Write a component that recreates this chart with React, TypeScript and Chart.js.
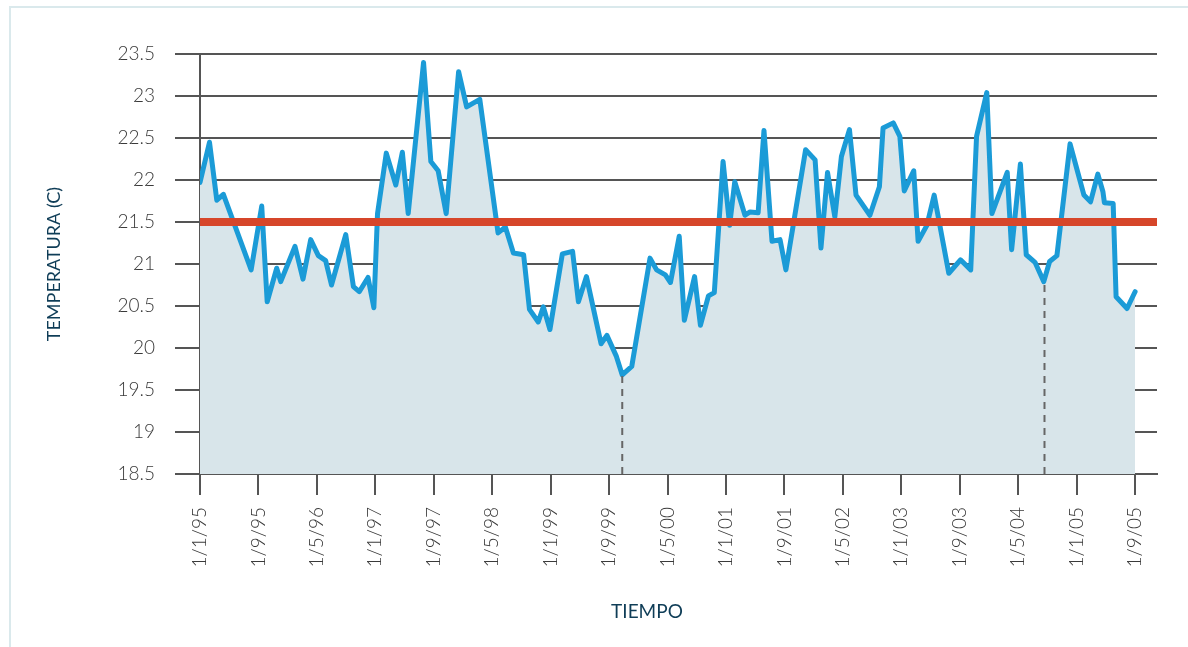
import { useEffect, useRef } from 'react';
import { Chart, registerables } from 'chart.js';

Chart.register(...registerables);

// Months elapsed since 1/1/95 for each reading, and the reading (°C)
const months = [
  0, 1.3, 2.3, 3.2, 7.0, 8.45, 9.2, 10.5, 11.05, 13.0, 14.1, 15.15, 16.2, 17.2, 18.0, 19.95, 21.0, 21.8, 23.0, 23.8,
  24.3, 25.5, 26.8, 27.7, 28.5, 30.6, 31.6, 32.6, 33.7, 35.4, 36.5, 38.3, 40.8, 41.8, 42.9, 44.3, 45.1, 46.3, 47.0, 47.9,
  49.6, 51.0, 51.8, 52.9, 54.9, 55.7, 57.0, 57.8, 59.1, 61.6, 62.5, 63.7, 64.4, 65.6, 66.3, 67.7, 68.5, 69.6, 70.4,
  71.6, 72.5, 73.2, 74.6, 75.3, 76.4, 77.2, 78.3, 79.4, 80.2, 82.9, 84.2, 85.0, 85.9, 86.9, 87.8, 88.9, 89.8, 91.7,
  93.0, 93.5, 94.9, 95.8, 96.4, 97.7, 98.3, 99.5, 100.5, 102.5, 104.1, 105.5, 106.3, 107.7, 108.4, 110.5, 111.1,
  112.3, 113.1, 114.3, 115.5, 116.3, 117.3, 119.1, 120.0, 121.0, 121.9, 122.9, 123.6, 123.8, 125.0, 125.4, 126.9, 128.0,
];
const temps = [
  21.97, 22.45, 21.76, 21.83, 20.93, 21.69, 20.55, 20.95, 20.79, 21.21, 20.82, 21.29, 21.1, 21.04, 20.75, 21.35, 20.73, 20.67, 20.84, 20.48,
  21.6, 22.32, 21.94, 22.33, 21.6, 23.4, 22.22, 22.11, 21.6, 23.29, 22.87, 22.96, 21.37, 21.44, 21.13, 21.11, 20.46, 20.31, 20.49, 20.22,
  21.12, 21.15, 20.55, 20.85, 20.05, 20.15, 19.9, 19.68, 19.78, 21.07, 20.93, 20.87, 20.78, 21.33, 20.33, 20.85, 20.27, 20.62, 20.66,
  22.22, 21.46, 21.98, 21.58, 21.62, 21.61, 22.59, 21.27, 21.29, 20.93, 22.36, 22.24, 21.19, 22.09, 21.56, 22.28, 22.6, 21.82, 21.58,
  21.92, 22.62, 22.68, 22.52, 21.87, 22.11, 21.27, 21.46, 21.82, 20.89, 21.05, 20.93, 22.52, 23.04, 21.6, 22.09, 21.17,
  22.19, 21.11, 21.02, 20.79, 21.03, 21.1, 22.43, 22.14, 21.82, 21.74, 22.07, 21.86, 21.73, 21.72, 20.61, 20.47, 20.67,
];

const tickMonths = [0, 8, 16, 24, 32, 40, 48, 56, 64, 72, 80, 88, 96, 104, 112, 120, 128];
const tickLabels = [
  '1/1/95', '1/9/95', '1/5/96', '1/1/97', '1/9/97', '1/5/98', '1/1/99', '1/9/99', '1/5/00',
  '1/1/01', '1/9/01', '1/5/02', '1/1/03', '1/9/03', '1/5/04', '1/1/05', '1/9/05',
];

const threshold = 21.5;
const markerMonths = [57.8, 115.6];
const markerTemps = [19.68, 20.79];

const xMin = 0;
const xMax = 131;
const yMin = 18.5;
const yMax = 23.5;
const yStep = 0.5;

export default function App() {
  const canvasRef = useRef<HTMLCanvasElement | null>(null);

  useEffect(() => {
    const canvas = canvasRef.current;
    if (!canvas) return;

    const gridColor = '#555555';
    const tickFont = { family: 'Lato', size: 19, weight: 300 as any };
    const titleColor = '#0F3D57';

    const markerSets = markerMonths.map((m, i) => ({
      data: [
        { x: m, y: yMin },
        { x: m, y: markerTemps[i] },
      ],
      borderColor: '#666666',
      borderWidth: 2,
      borderDash: [7, 6],
      pointRadius: 0,
      fill: false,
      order: 0.5,
    }));

    const chart = new Chart(canvas, {
      type: 'line',
      data: {
        datasets: [
          {
            data: months.map((m, i) => ({ x: m, y: temps[i] })),
            borderColor: '#1B9BD7',
            borderWidth: 5,
            borderJoinStyle: 'round',
            borderCapStyle: 'round',
            backgroundColor: '#D8E5EA',
            fill: 'start',
            pointRadius: 0,
            tension: 0,
            order: 1,
          },
          ...markerSets,
          {
            data: [
              { x: xMin, y: threshold },
              { x: xMax, y: threshold },
            ],
            borderColor: '#D6462A',
            borderWidth: 8,
            pointRadius: 0,
            fill: false,
            order: 0,
          },
        ] as any,
      },
      options: {
        animation: false,
        responsive: false,
        events: [],
        layout: { padding: { top: 54, right: 31, left: 0, bottom: 0 } },
        plugins: {
          legend: { display: false },
          tooltip: { enabled: false },
        },
        scales: {
          x: {
            type: 'linear',
            min: xMin,
            max: xMax,
            afterFit: (s: any) => {
              s.height = 173;
            },
            afterBuildTicks: (s: any) => {
              s.ticks = tickMonths.map((v) => ({ value: v }));
            },
            grid: {
              drawOnChartArea: false,
              drawTicks: true,
              tickLength: 21,
              color: gridColor,
              lineWidth: 2,
            },
            border: { display: true, color: gridColor, width: 2 },
            ticks: {
              autoSkip: false,
              minRotation: 90,
              maxRotation: 90,
              padding: 12,
              color: '#3A3A3A',
              font: tickFont,
              callback: (v: any) => {
                const idx = tickMonths.indexOf(Number(v));
                return idx >= 0 ? tickLabels[idx] : '';
              },
            },
            title: { display: false },
          },
          y: {
            type: 'linear',
            min: yMin,
            max: yMax,
            afterFit: (s: any) => {
              s.width = 200;
            },
            grid: {
              drawOnChartArea: true,
              drawTicks: true,
              tickLength: 25,
              color: gridColor,
              lineWidth: 2,
            },
            border: { display: true, color: gridColor, width: 2 },
            ticks: {
              stepSize: yStep,
              padding: 20,
              color: '#3A3A3A',
              font: tickFont,
              callback: (v: any) => String(Number(Number(v).toFixed(1))),
            },
            title: {
              display: true,
              text: 'TEMPERATURA (C)',
              color: titleColor,
              font: { family: 'Lato', size: 18, weight: 'normal' },
              padding: { top: 43, bottom: 0 },
            },
          },
        },
      },
    });

    return () => {
      chart.destroy();
    };
  }, []);

  return (
    <div style={{ position: 'absolute', left: 0, top: 0, width: 1188, height: 647, overflow: 'hidden', background: '#ffffff' }}>
      <div
        style={{
          position: 'absolute',
          left: 9,
          top: 6,
          width: 1179,
          height: 641,
          borderTop: '2px solid #DAE9EC',
          borderLeft: '2px solid #DAE9EC',
          boxSizing: 'border-box',
        }}
      />
      <canvas ref={canvasRef} width={1188} height={647} style={{ position: 'absolute', left: 0, top: 0 }} />
      <div
        style={{
          position: 'absolute',
          left: 547,
          top: 599,
          width: 200,
          textAlign: 'center',
          fontFamily: 'Lato',
          fontSize: 19,
          color: '#0F3D57',
          lineHeight: '24px',
        }}
      >
        TIEMPO
      </div>
    </div>
  );
}
